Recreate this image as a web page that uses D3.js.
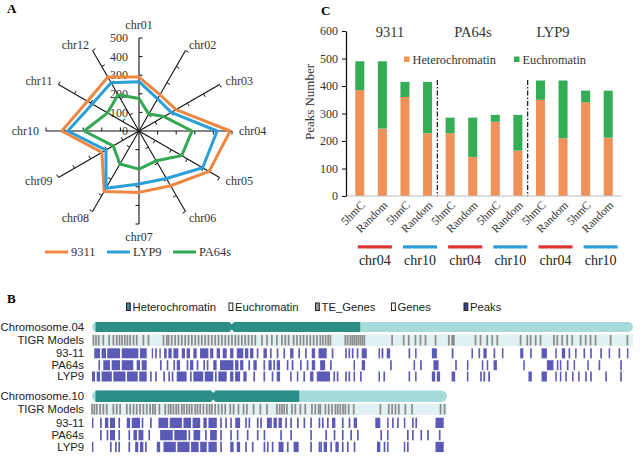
<!DOCTYPE html>
<html><head><meta charset="utf-8">
<script src="https://cdn.jsdelivr.net/npm/d3@7"></script>
<style>body{margin:0;background:#fff}svg{display:block}</style>
</head><body>
<script>
// ================= DATA =================
// Panel A: radar
const radarAxes = ["chr01","chr02","chr03","chr04","chr05","chr06","chr07","chr08","chr09","chr10","chr11","chr12"];
const radar9311  = [290,225,230,490,435,340,330,375,230,415,320,335];
const radarLYP9  = [265,200,200,420,395,295,285,355,205,383,290,300];
const radarPA64s = [175,105,155,285,265,185,205,205,160,295,195,225];
const radarTicks = [0,100,200,300,400,500];
const radarSeriesNames = ["9311","LYP9","PA64s"];

// Panel C: stacked bars
const barGroups = ["9311","PA64s","LYP9"];
const barCategories = ["5hmC","Random","5hmC","Random","5hmC","Random","5hmC","Random","5hmC","Random","5hmC","Random"];
const barChroms = ["chr04","chr10","chr04","chr10","chr04","chr10"];
const heteroPeaks = [385,245,360,228,228,142,270,165,350,210,341,212];
const euchroPeaks = [105,245,55,187,57,143,25,130,70,210,42,171];
const barYTicks = [0,100,200,300,400,500,600];
const barLegend = ["Heterochromatin","Euchromatin"];

// Panel B: genome tracks (positions in Mb)
const genomeLegend = ["Heterochromatin","Euchromatin","TE_Genes","Genes","Peaks"];
const chromNames = ["Chromosome.04","Chromosome.10"];
const chromLength = [35.5, 23.3];
const heteroEnd = [17.6, 13.6];
const centromere = [9.17, 7.96];
const trackNames = ["TIGR Models","93-11","PA64s","LYP9"];

const tigr04 = [0.09,0.26,0.44,0.74,1.12,1.4,1.62,1.8,1.97,2.15,2.32,2.5,2.72,2.93,3.37,3.7,4.69,4.91,5.02,5.23,5.45,5.67,5.89,6.11,6.33,6.55,6.77,6.99,7.2,7.42,7.64,7.86,8.08,8.3,8.52,8.74,8.96,9.18,9.4,9.61,9.83,10.05,10.27,10.49,10.71,11.15,11.48,11.8,12.13,12.46,12.68,12.9,13.23,13.45,13.67,13.88,14.1,14.32,14.54,14.76,14.98,15.15,15.33,15.5,15.64,16.62,16.77,16.95,17.08,17.21,17.34,17.48,17.61,17.74,17.87,19.69,20.45,20.78,21.22,21.55,21.88,22.54,23.41,23.63,23.74,25.16,25.49,25.93,26.26,26.59,28.12,28.56,28.78,29.11,29.43,30.31,30.53,30.85,31.18,31.51,32.06,32.39,32.71,33.04,34.03,35.13];
const peaks9311_04 = [[0.15,0.53],[0.63,0.92],[1.0,1.84],[1.95,3.04],[3.15,3.59],[3.92,3.98],[4.14,4.25],[4.42,4.51],[4.73,4.9],[5.01,5.23],[5.34,5.67],[5.89,6.1],[6.21,6.43],[6.65,6.87],[7.09,7.64],[7.75,7.96],[8.18,8.4],[8.58,8.84],[9.06,9.28],[9.5,9.93],[10.04,10.26],[10.37,10.59],[10.81,10.92],[11.25,11.47],[11.68,11.79],[12.12,12.23],[12.56,12.67],[13.0,13.22],[13.54,13.65],[13.98,14.09],[14.42,14.64],[14.86,15.4],[15.73,15.84],[16.61,16.72],[16.83,16.94],[17.05,17.16],[17.37,17.48],[17.7,18.03],[18.8,18.9],[19.0,19.12],[19.34,19.56],[20.77,20.88],[21.2,21.3],[22.3,22.63],[23.6,23.72],[24.9,25.0],[25.36,25.47],[25.68,25.9],[26.35,26.46],[26.9,27.0],[28.1,28.3],[28.75,28.86],[29.5,29.85],[30.4,30.5],[30.83,31.05],[31.27,31.38],[31.7,31.8],[32.25,32.36],[32.69,32.8],[33.35,33.46],[33.9,34.0],[34.55,34.66],[35.1,35.2]];
const peaksPA64s_04 = [[0.42,0.53],[0.74,1.18],[1.29,1.84],[1.95,2.71],[2.93,3.15],[3.26,3.59],[4.46,4.57],[4.9,5.01],[5.34,5.45],[5.56,5.78],[6.21,6.32],[6.43,6.65],[6.87,6.98],[7.31,7.42],[7.53,7.64],[7.96,8.18],[8.4,9.28],[9.39,9.61],[9.72,9.93],[10.26,10.37],[10.59,10.81],[11.25,11.36],[11.58,11.79],[11.9,12.01],[12.12,12.34],[12.78,12.89],[13.1,13.22],[13.65,13.76],[14.09,14.2],[14.42,14.64],[14.97,15.3],[15.62,15.73],[17.16,17.26],[17.7,17.92],[19.56,19.67],[21.1,21.2],[21.53,21.64],[22.4,22.74],[23.83,23.94],[24.6,24.7],[25.58,25.68],[25.9,26.0],[26.35,26.57],[28.3,28.4],[29.85,30.28],[30.5,30.6],[30.7,30.8],[31.16,31.27],[31.6,31.7],[32.5,32.6],[33.24,33.35],[34.66,34.77]];
const peaksLYP9_04 = [[0,0.2],[0.31,0.53],[0.63,1.3],[1.4,2.2],[2.3,3.0],[3.1,3.59],[3.81,3.92],[4.14,4.25],[4.68,4.79],[5.01,5.12],[5.23,5.34],[5.56,6.21],[6.43,6.54],[6.65,7.3],[7.4,7.96],[8.07,8.18],[8.29,8.84],[9.06,9.28],[9.39,9.72],[9.93,10.15],[10.59,10.7],[11.25,11.36],[11.79,11.9],[12.12,12.34],[13.0,13.1],[13.44,13.54],[13.87,13.98],[14.31,14.53],[14.75,15.62],[15.84,15.95],[16.06,16.17],[16.61,16.72],[16.83,16.94],[17.16,17.26],[17.59,17.7],[18.8,18.9],[19.12,19.23],[20.77,20.88],[21.2,21.3],[22.3,22.52],[22.63,22.84],[23.6,23.83],[24.6,24.7],[25.47,25.58],[25.68,25.8],[26.0,26.12],[28.64,28.86],[29.5,29.85],[30.4,30.5],[30.7,30.8],[31.05,31.16],[31.5,31.6],[31.9,32.0],[32.36,32.47],[32.69,32.8],[33.68,33.79],[34.66,34.77]];

const tigr10 = [0.0,0.15,0.31,0.53,0.74,0.96,1.4,1.62,1.84,2.28,2.5,2.72,2.93,3.15,3.37,3.59,3.81,3.99,4.14,4.42,4.8,5.02,5.17,5.34,5.52,5.67,5.89,6.04,6.22,6.39,6.55,6.77,6.92,7.1,7.31,7.53,7.71,7.86,8.08,8.3,8.52,8.74,9.07,9.29,9.61,9.94,10.16,10.6,11.04,11.48,12.13,12.31,12.46,12.61,12.79,13.12,13.34,13.67,13.99,14.43,14.65,14.87,14.98,15.31,15.53,15.75,15.97,16.12,16.29,16.47,16.62,16.84,17.17,18.92,19.47,19.69,19.91,20.13,20.56,21.0,22.87,23.13];
const peaks9311_10 = [[0,0.09],[0.53,0.64],[0.85,1.07],[1.18,1.51],[1.73,1.84],[2.28,2.5],[2.61,3.15],[3.26,3.37],[3.81,3.92],[4.36,5.0],[5.1,5.9],[6.0,6.5],[6.6,7.1],[7.31,7.53],[7.64,8.19],[8.41,8.52],[8.74,8.85],[9.07,9.18],[9.4,9.72],[10.05,10.16],[10.27,10.38],[10.82,10.93],[11.04,11.15],[11.48,11.8],[11.91,12.13],[12.24,12.46],[12.68,12.79],[13.01,13.12],[13.45,13.56],[13.88,13.99],[14.32,14.43],[14.87,14.98],[15.09,15.2],[15.42,15.53],[15.75,15.97],[16.4,16.51],[16.84,16.95],[17.17,17.39],[18.59,18.92],[19.36,19.46],[19.69,19.8],[20.02,20.13],[20.46,20.56],[21.0,21.11],[21.22,21.33],[22.54,23.08]];
const peaksPA64s_10 = [[0.53,0.64],[0.96,1.07],[1.18,1.51],[1.73,1.84],[2.39,2.5],[2.72,2.95],[3.05,3.37],[3.7,3.81],[4.47,5.3],[5.4,6.22],[6.33,6.44],[6.66,7.1],[7.42,7.53],[7.75,8.19],[8.41,8.52],[9.07,9.18],[9.5,9.61],[10.16,10.27],[10.82,10.93],[11.26,11.37],[12.35,12.46],[13.01,13.12],[14.32,14.43],[15.31,15.42],[15.86,15.97],[16.4,16.51],[16.95,17.06],[17.39,17.5],[18.92,19.03],[19.36,19.46],[20.67,20.78],[21.0,21.11],[21.55,21.66],[21.99,22.1],[22.76,22.87]];
const peaksLYP9_10 = [[0,0.09],[1.18,1.29],[1.51,1.62],[1.73,1.84],[2.39,2.5],[2.83,3.04],[3.15,3.37],[3.48,3.59],[4.25,4.47],[4.69,5.5],[5.6,6.4],[6.5,7.0],[7.1,7.53],[7.64,8.19],[8.41,8.52],[9.07,9.29],[9.5,9.72],[10.05,10.16],[10.49,10.6],[11.26,11.37],[11.48,11.59],[11.8,11.91],[12.24,12.57],[12.79,12.9],[13.23,13.56],[14.32,14.43],[14.87,14.98],[14.98,15.09],[15.2,15.42],[15.64,15.75],[15.97,16.19],[16.4,16.51],[16.73,16.84],[17.17,17.28],[18.7,18.92],[19.14,19.25],[19.36,19.46],[20.46,20.56],[20.67,20.78],[22.54,23.08]];

// ================= DRAW =================
const W = 640, H = 456;
const serif = "'Liberation Serif','Times New Roman',serif";
const sans = "'Liberation Sans',Arial,sans-serif";
const svg = d3.select("body").append("svg").attr("width", W).attr("height", H)
  .style("background", "#fff");

// ---------- Panel labels ----------
svg.append("text").attr("x", 7).attr("y", 13).text("A")
  .attr("font-family", serif).attr("font-weight", "bold").attr("font-size", 13);
svg.append("text").attr("x", 321).attr("y", 15).text("C")
  .attr("font-family", serif).attr("font-weight", "bold").attr("font-size", 13);
svg.append("text").attr("x", 7).attr("y", 303).text("B")
  .attr("font-family", serif).attr("font-weight", "bold").attr("font-size", 13);

// ---------- Panel A: radar ----------
(function () {
  const cx = 139, cy = 131;
  const r = d3.scaleLinear().domain([0, 500]).range([0, 93]);
  const ang = d3.scaleLinear().domain([0, radarAxes.length]).range([0, 2 * Math.PI]);
  const g = svg.append("g").attr("transform", `translate(${cx},${cy})`);

  // radial tick labels
  g.selectAll("text.rt").data(radarTicks).join("text")
    .attr("x", -11).attr("y", d => -r(d)).attr("dy", "0.35em")
    .attr("text-anchor", "end").attr("font-family", serif).attr("font-size", 12)
    .attr("fill", "#333").text(d => d);

  // spokes + ticks + labels
  radarAxes.forEach((name, i) => {
    const a = ang(i), dx = Math.sin(a), dy = -Math.cos(a);
    const R = r(500);
    g.append("line").attr("x1", 0).attr("y1", 0).attr("x2", dx * R).attr("y2", dy * R)
      .attr("stroke", "#111").attr("stroke-width", 1.1);
    const px = -dy, py = dx; // perpendicular (clockwise side)
    radarTicks.slice(1).forEach(t => {
      const rr = r(t);
      g.append("line")
        .attr("x1", dx * rr).attr("y1", dy * rr)
        .attr("x2", dx * rr + px * 3.5).attr("y2", dy * rr + py * 3.5)
        .attr("stroke", "#111").attr("stroke-width", 1);
    });
    let anchor = "middle", rl = 106;
    if (Math.abs(dx) > 0.01) { anchor = dx > 0 ? "start" : "end"; rl = 100; }
    g.append("text").attr("x", dx * rl).attr("y", dy * rl).attr("dy", "0.35em")
      .attr("text-anchor", anchor).attr("font-family", serif).attr("font-size", 12)
      .attr("fill", "#333").text(name);
  });

  const colors = { "9311": "#EE8743", "LYP9": "#2A9FD8", "PA64s": "#33A852" };
  const values = { "9311": radar9311, "LYP9": radarLYP9, "PA64s": radarPA64s };
  const line = d3.lineRadial().angle((d, i) => ang(i)).radius(d => r(d)).curve(d3.curveLinearClosed);
  g.selectAll("path.series").data(radarSeriesNames).join("path")
    .attr("d", s => line(values[s])).attr("fill", "none")
    .attr("stroke", s => colors[s]).attr("stroke-width", 3).attr("stroke-linejoin", "round");

  // legend
  const lx = [45, 107, 173];
  const lg = svg.append("g");
  radarSeriesNames.forEach((s, i) => {
    lg.append("line").attr("x1", lx[i]).attr("x2", lx[i] + 23).attr("y1", 252).attr("y2", 252)
      .attr("stroke", colors[s]).attr("stroke-width", 3);
    lg.append("text").attr("x", lx[i] + 26).attr("y", 252).attr("dy", "0.35em")
      .attr("font-family", serif).attr("font-size", 12.5).attr("fill", "#333").text(s);
  });
})();

// ---------- Panel C: stacked bars ----------
(function () {
  const x = d3.scaleBand().domain(d3.range(barCategories.length)).range([346, 622])
    .paddingInner(0.6).paddingOuter(0.41);
  const y = d3.scaleLinear().domain([0, 600]).range([196, 31]);
  const barData = barCategories.map((c, i) => ({ i, hetero: heteroPeaks[i], eu: euchroPeaks[i] }));
  const stacked = d3.stack().keys(["hetero", "eu"])(barData);
  const col = { hetero: "#F0915A", eu: "#34AE56" };

  svg.append("g").selectAll("g").data(stacked).join("g").attr("fill", d => col[d.key])
    .selectAll("rect").data(d => d).join("rect")
    .attr("x", d => x(d.data.i)).attr("width", x.bandwidth())
    .attr("y", d => y(d[1])).attr("height", d => y(d[0]) - y(d[1]));

  // x axis line
  svg.append("line").attr("x1", 346).attr("x2", 622).attr("y1", y(0)).attr("y2", y(0))
    .attr("stroke", "#BFBFBF").attr("stroke-width", 1);

  // y axis
  const ya = svg.append("g").attr("transform", "translate(346,0)")
    .call(d3.axisLeft(y).tickValues(barYTicks).tickSize(4).tickPadding(4).tickSizeOuter(0));
  ya.select(".domain").attr("stroke", "#111").attr("stroke-width", 1.3);
  ya.selectAll(".tick line").attr("stroke", "#111");
  ya.selectAll("text").attr("font-family", serif).attr("font-size", 12).attr("fill", "#333");

  svg.append("text").attr("transform", "translate(309,102) rotate(-90)")
    .attr("text-anchor", "middle").attr("dy", "0.35em")
    .attr("font-family", serif).attr("font-size", 13).attr("fill", "#333").text("Peaks Number");

  // dash-dot separators
  [4, 8].forEach(k => {
    const xs = (x(k - 1) + x.bandwidth() + x(k)) / 2 - 1.5;
    svg.append("line").attr("x1", xs).attr("x2", xs).attr("y1", 80).attr("y2", y(0))
      .attr("stroke", "#111").attr("stroke-width", 1.2).attr("stroke-dasharray", "5,2,1.5,2");
  });

  // group labels
  const gxPos = [390, 473, 553];
  barGroups.forEach((gname, i) => {
    svg.append("text").attr("x", gxPos[i]).attr("y", 36.5).attr("text-anchor", "middle")
      .attr("font-family", serif).attr("font-size", 14.5).attr("fill", "#333").text(gname);
  });

  // legend
  const legX = [404, 514];
  barLegend.forEach((t, i) => {
    svg.append("rect").attr("x", legX[i]).attr("y", 56.5).attr("width", 5.5).attr("height", 5.5)
      .attr("fill", i === 0 ? col.hetero : col.eu);
    svg.append("text").attr("x", legX[i] + 8.5).attr("y", 63.5)
      .attr("font-family", serif).attr("font-size", 12.3).attr("fill", "#333").text(t);
  });

  // category labels
  svg.append("g").selectAll("text").data(barCategories).join("text")
    .attr("transform", (d, i) => `translate(${x(i) + x.bandwidth() / 2 + 3},${203}) rotate(-45)`)
    .attr("text-anchor", "end").attr("dy", "0.35em")
    .attr("font-family", serif).attr("font-size", 11.5).attr("fill", "#333").text(d => d);

  // chromosome bars under pairs
  barChroms.forEach((c, p) => {
    const c0 = x(2 * p) + x.bandwidth() / 2, c1 = x(2 * p + 1) + x.bandwidth() / 2;
    const x0 = c0 - 2, x1 = c1 + 9.5;
    svg.append("rect").attr("x", x0).attr("y", 245.3).attr("width", x1 - x0).attr("height", 3.2)
      .attr("fill", c === "chr04" ? "#E03434" : "#2E9FD8");
    svg.append("text").attr("x", (x0 + x1) / 2).attr("y", 260).attr("dy", "0.35em")
      .attr("text-anchor", "middle").attr("font-family", serif).attr("font-size", 14)
      .attr("fill", "#222").text(c);
  });
})();

// ---------- Panel B: genome tracks ----------
(function () {
  const gx = d3.scaleLinear().domain([0, 35.5]).range([92, 633]);
  const darkTeal = "#2B8E87", lightTeal = "#A7DBDB", tigrBg = "#E1F0F3",
        tigrCol = "#8A8A8A", peakCol = "#5B5BB7";

  // legend
  const iconX = [126.5, 229, 315.5, 391.5, 464];
  const iconFill = [darkTeal, "#ffffff", "#9a9a9a", "#ffffff", "#3d3d9e"];
  genomeLegend.forEach((t, i) => {
    svg.append("rect").attr("x", iconX[i]).attr("y", 303).attr("width", 3.8).attr("height", 7.5)
      .attr("fill", iconFill[i]).attr("stroke", "#222").attr("stroke-width", 1);
    svg.append("text").attr("x", iconX[i] + 6).attr("y", 307).attr("dy", "0.35em")
      .attr("font-family", sans).attr("font-size", 11.3).attr("fill", "#222").text(t);
  });

  function drawChrom(ci, layout, tigr, peakSets) {
    const g = svg.append("g");
    const L = chromLength[ci];
    const c = layout.chrom;
    // labels
    const labels = [chromNames[ci]].concat(trackNames);
    const labY = [layout.chrom.y + layout.chrom.h / 2, layout.tigr.y + layout.tigr.h / 2]
      .concat(layout.peaks.map(p => p + layout.ph / 2));
    labels.forEach((t, i) => {
      g.append("text").attr("x", 84).attr("y", labY[i]).attr("dy", "0.35em")
        .attr("text-anchor", "end").attr("font-family", sans).attr("font-size", 11.3)
        .attr("fill", "#222").text(t);
    });
    // chromosome bar
    g.append("rect").attr("x", gx(0)).attr("y", c.y).attr("width", gx(L) - gx(0)).attr("height", c.h)
      .attr("rx", c.h / 2).attr("fill", lightTeal);
    g.append("rect").attr("x", gx(0) + 3.5).attr("y", c.y).attr("width", gx(heteroEnd[ci]) - gx(0) - 3.5)
      .attr("height", c.h).attr("fill", darkTeal);
    const cxp = gx(centromere[ci]);
    g.append("path").attr("d", `M${cxp - 2.5},${c.y - 0.2}L${cxp + 2.5},${c.y - 0.2}L${cxp},${c.y + 2.6}Z`).attr("fill", "#fff");
    g.append("path").attr("d", `M${cxp - 2.5},${c.y + c.h + 0.2}L${cxp + 2.5},${c.y + c.h + 0.2}L${cxp},${c.y + c.h - 2.6}Z`).attr("fill", "#fff");

    // TIGR
    const t = layout.tigr;
    g.append("rect").attr("x", gx(0)).attr("y", t.y).attr("width", gx(L) - gx(0)).attr("height", t.h)
      .attr("fill", tigrBg);
    g.append("g").selectAll("rect").data(tigr).join("rect")
      .attr("x", d => gx(d) - 0.8).attr("width", 1.7).attr("y", t.y + 0.5).attr("height", t.h - 1)
      .attr("fill", tigrCol);

    // peaks
    peakSets.forEach((set, k) => {
      g.append("g").selectAll("rect").data(set).join("rect")
        .attr("x", d => gx(d[0])).attr("width", d => Math.max(1.4, gx(d[1]) - gx(d[0])))
        .attr("y", layout.peaks[k]).attr("height", layout.ph).attr("fill", peakCol);
    });
  }

  drawChrom(0, { chrom: { y: 322, h: 10 }, tigr: { y: 334.5, h: 11.5 }, peaks: [348.3, 360.2, 371.5], ph: 10 },
    tigr04, [peaks9311_04, peaksPA64s_04, peaksLYP9_04]);
  drawChrom(1, { chrom: { y: 390.5, h: 11.5 }, tigr: { y: 403.5, h: 11.5 }, peaks: [417.7, 430, 441.8], ph: 10.3 },
    tigr10, [peaks9311_10, peaksPA64s_10, peaksLYP9_10]);
})();
</script>
</body></html>
